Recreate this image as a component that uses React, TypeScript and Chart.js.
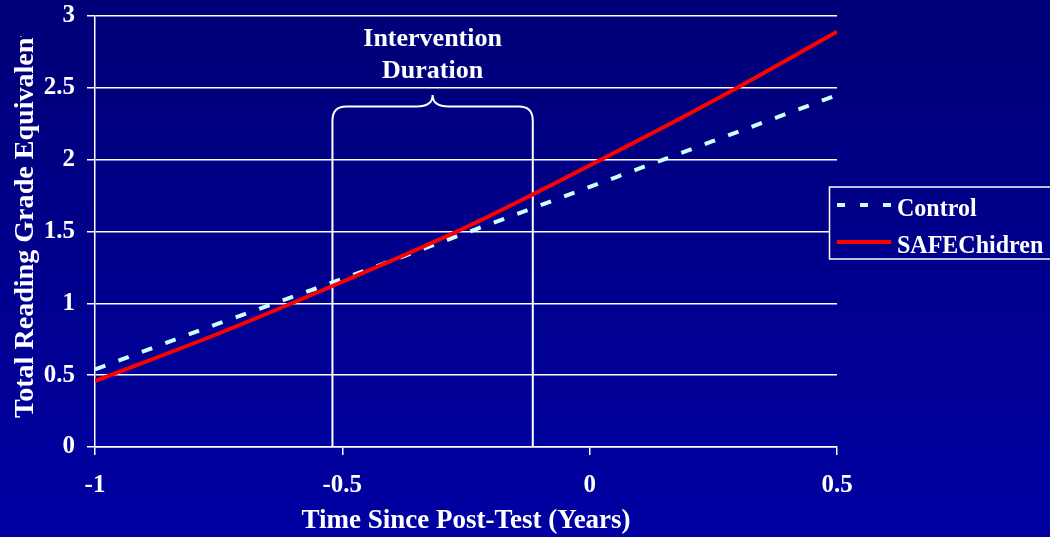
import { useEffect, useRef } from 'react';
import { Chart, registerables } from 'chart.js';

Chart.register(...registerables);

// ---- data ----
const timePoints = [-1, -0.75, -0.5, -0.25, 0, 0.25, 0.5];
const controlValues = [0.54, 0.86, 1.17, 1.49, 1.81, 2.13, 2.45];
const safeValues = [0.46, 0.79, 1.15, 1.53, 1.96, 2.41, 2.89];
const seriesLabels = ['Control', 'SAFEChidren'];
const xTicks = [-1, -0.5, 0, 0.5];
const yTicks = [0, 0.5, 1, 1.5, 2, 2.5, 3];
const interventionRange = [-0.52, -0.115];
const braceLevels = [2.37, 2.45];
const annotationLines = ['Intervention', 'Duration'];
const xTitle = 'Time Since Post-Test (Years)';
const yTitle = 'Total Reading Grade Equivalent';

const FONT = "'Liberation Serif', 'Times New Roman', Times, serif";
const CONTROL_COLOR = '#CCFFFF';
const SAFE_COLOR = '#FF0000';

function makeGradient(ctx: CanvasRenderingContext2D, height: number) {
  const g = ctx.createLinearGradient(0, 0, 0, height);
  g.addColorStop(0, '#000077');
  g.addColorStop(1, '#0000A3');
  return g;
}

const backgroundPlugin = {
  id: 'bgGradient',
  beforeDraw(chart: any) {
    const { ctx, width, height } = chart;
    ctx.save();
    ctx.fillStyle = makeGradient(ctx, height);
    ctx.fillRect(0, 0, width, height);
    ctx.restore();
  },
};

const bracePlugin = {
  id: 'interventionBrace',
  beforeDatasetsDraw(chart: any) {
    const { ctx, chartArea } = chart;
    const xs = chart.scales.x;
    const ys = chart.scales.y;
    const L = xs.getPixelForValue(interventionRange[0]);
    const R = xs.getPixelForValue(interventionRange[1]);
    const C = (L + R) / 2;
    const bottom = ys.getPixelForValue(0);
    const top = ys.getPixelForValue(braceLevels[0]);
    const peak = ys.getPixelForValue(braceLevels[1]);
    const r = 14;
    ctx.save();
    ctx.strokeStyle = '#FFFFFF';
    ctx.lineWidth = 2;
    ctx.beginPath();
    ctx.moveTo(L, bottom);
    ctx.lineTo(L, top + r);
    ctx.quadraticCurveTo(L, top, L + r, top);
    ctx.lineTo(C - 16, top);
    ctx.bezierCurveTo(C - 6, top, C, top - 3, C, peak);
    ctx.bezierCurveTo(C, top - 3, C + 6, top, C + 16, top);
    ctx.lineTo(R - r, top);
    ctx.quadraticCurveTo(R, top, R, top + r);
    ctx.lineTo(R, bottom);
    ctx.stroke();

    ctx.fillStyle = '#FFFFFF';
    ctx.font = `bold 26px ${FONT}`;
    ctx.textAlign = 'center';
    ctx.textBaseline = 'alphabetic';
    ctx.fillText(annotationLines[0], C, chartArea.top + 30);
    ctx.fillText(annotationLines[1], C, chartArea.top + 62);
    ctx.restore();
  },
};

const overlayPlugin = {
  id: 'overlay',
  afterDraw(chart: any) {
    const { ctx, height, chartArea } = chart;
    ctx.save();
    // y-axis title, clipped at the top like the reference
    ctx.save();
    ctx.beginPath();
    ctx.rect(0, 36, 80, height);
    ctx.clip();
    ctx.translate(33, chartArea.bottom - 29);
    ctx.rotate(-Math.PI / 2);
    ctx.scale(1.08, 1.03);
    ctx.fillStyle = '#FFFFFF';
    ctx.font = `bold 26px ${FONT}`;
    ctx.textAlign = 'left';
    ctx.textBaseline = 'alphabetic';
    ctx.fillText(yTitle, 0, 0);
    ctx.restore();

    // legend box
    const bx = 829.5;
    const by = 187;
    ctx.fillStyle = makeGradient(ctx, height);
    ctx.fillRect(bx, by, 260, 72);
    ctx.strokeStyle = '#FFFFFF';
    ctx.lineWidth = 1.5;
    ctx.strokeRect(bx, by, 260, 72);

    const items = [
      { label: seriesLabels[0], color: CONTROL_COLOR, dash: [8, 15], y: by + 18 },
      { label: seriesLabels[1], color: SAFE_COLOR, dash: [], y: by + 55 },
    ];
    ctx.textAlign = 'left';
    ctx.textBaseline = 'alphabetic';
    items.forEach((it) => {
      ctx.save();
      ctx.strokeStyle = it.color;
      ctx.lineWidth = 4;
      ctx.setLineDash(it.dash);
      ctx.beginPath();
      ctx.moveTo(837, it.y);
      ctx.lineTo(891, it.y);
      ctx.stroke();
      ctx.restore();
      ctx.save();
      ctx.translate(897, it.y + 11);
      ctx.scale(1, 1.06);
      ctx.fillStyle = '#FFFFFF';
      ctx.font = `bold 24px ${FONT}`;
      ctx.fillText(it.label, 0, 0);
      ctx.restore();
    });
    ctx.restore();
  },
};

export default function App() {
  const canvasRef = useRef<HTMLCanvasElement | null>(null);

  useEffect(() => {
    if (!canvasRef.current) return;
    const chart = new Chart(canvasRef.current, {
      type: 'line',
      data: {
        datasets: [
          {
            label: seriesLabels[0],
            data: timePoints.map((x, i) => ({ x, y: controlValues[i] })),
            borderColor: CONTROL_COLOR,
            borderWidth: 4,
            borderDash: [11, 14],
            pointRadius: 0,
            fill: false,
            cubicInterpolationMode: 'monotone',
            order: 1,
          },
          {
            label: seriesLabels[1],
            data: timePoints.map((x, i) => ({ x, y: safeValues[i] })),
            borderColor: SAFE_COLOR,
            borderWidth: 4,
            pointRadius: 0,
            fill: false,
            cubicInterpolationMode: 'monotone',
            order: 0,
          },
        ],
      },
      options: {
        animation: false,
        responsive: false,
        devicePixelRatio: 1,
        layout: { padding: { left: 0, top: 16, right: 213, bottom: 0 } },
        plugins: {
          legend: { display: false },
          tooltip: { enabled: false },
        },
        scales: {
          x: {
            type: 'linear',
            min: -1,
            max: 0.5,
            afterBuildTicks: (scale: any) => {
              scale.ticks = xTicks.map((v) => ({ value: v }));
            },
            afterFit: (scale: any) => {
              scale.height = 90;
              scale.paddingLeft = 0;
              scale.paddingRight = 0;
            },
            grid: {
              drawOnChartArea: false,
              drawTicks: true,
              tickLength: 8,
              color: '#FFFFFF',
              lineWidth: 1.5,
            },
            border: { display: true, color: '#FFFFFF', width: 1.5 },
            ticks: {
              color: '#FFFFFF',
              padding: 16,
              maxRotation: 0,
              font: { family: FONT, size: 25, weight: 'bold' },
              callback: (v: any) => String(v),
            },
            title: {
              display: true,
              text: xTitle,
              color: '#FFFFFF',
              padding: { top: 0, bottom: 0 },
              font: { family: FONT, size: 27, weight: 'bold' },
            },
          },
          y: {
            type: 'linear',
            min: 0,
            max: 3,
            afterBuildTicks: (scale: any) => {
              scale.ticks = yTicks.map((v) => ({ value: v }));
            },
            afterFit: (scale: any) => {
              scale.width = 95;
              scale.paddingTop = 0;
              scale.paddingBottom = 0;
            },
            grid: {
              drawOnChartArea: true,
              drawTicks: true,
              tickLength: 8,
              color: '#FFFFFF',
              lineWidth: 1.5,
            },
            border: { display: true, color: '#FFFFFF', width: 1.5 },
            ticks: {
              color: '#FFFFFF',
              padding: 12,
              font: { family: FONT, size: 25, weight: 'bold' },
              callback: (v: any) => String(v),
            },
          },
        },
      },
      plugins: [backgroundPlugin, bracePlugin, overlayPlugin],
    } as any);
    return () => chart.destroy();
  }, []);

  return (
    <div style={{ position: 'absolute', left: 0, top: 0, width: 1050, height: 537 }}>
      <canvas ref={canvasRef} width={1050} height={537} style={{ display: 'block' }} />
    </div>
  );
}
